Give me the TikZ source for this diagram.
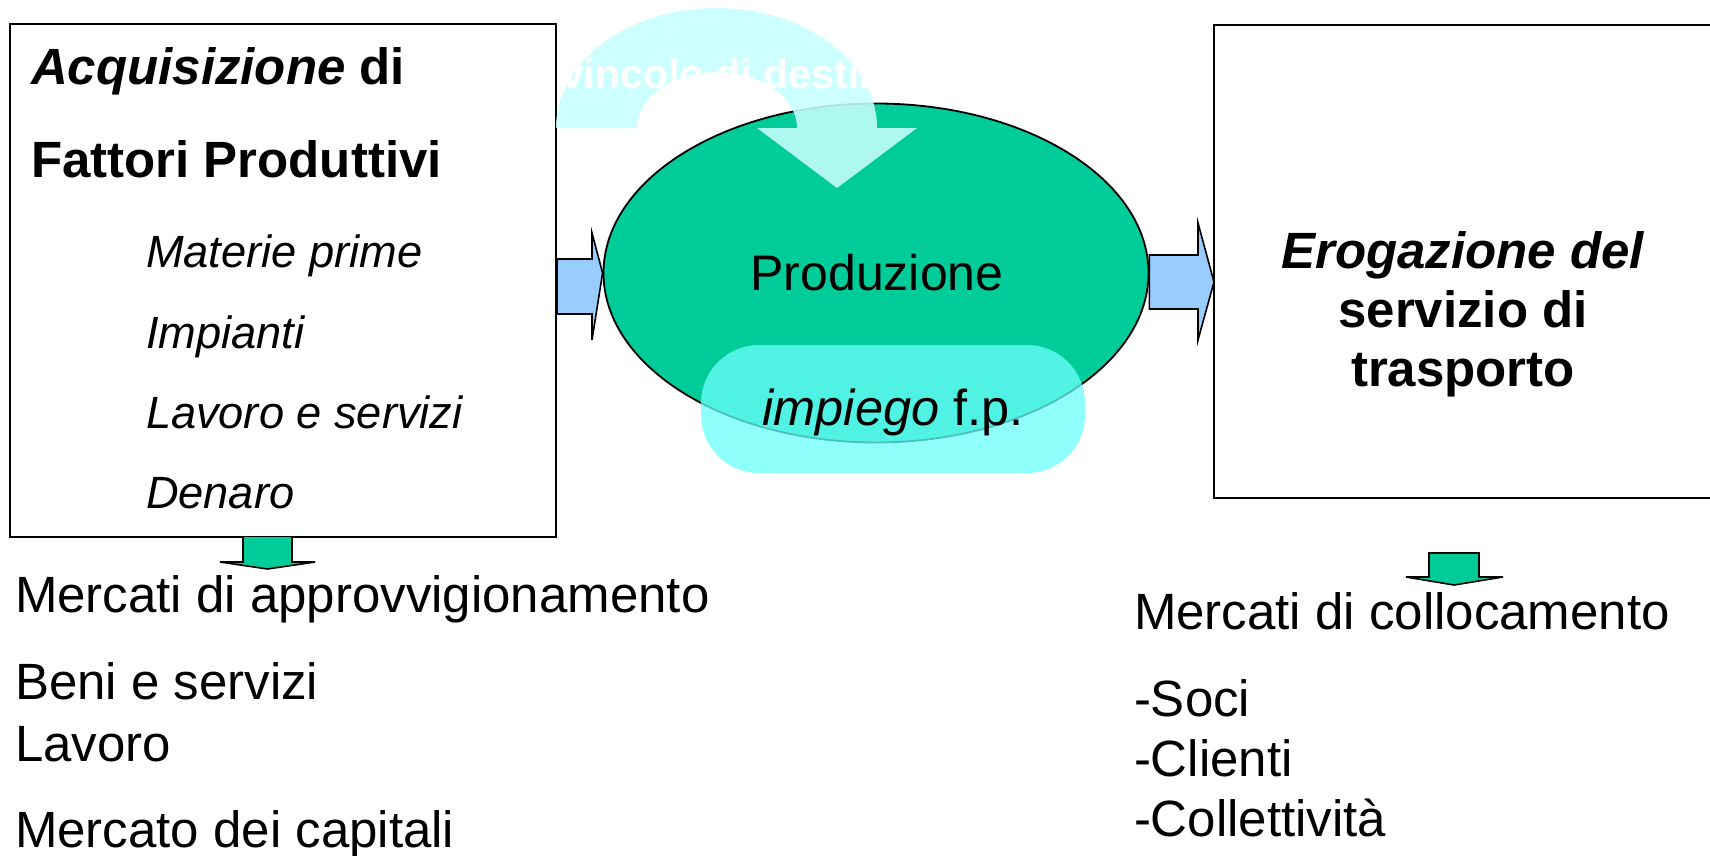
\documentclass[tikz,border=0pt]{standalone}
\usepackage{fontspec}
\setmainfont{Liberation Sans}
\usetikzlibrary{shapes.geometric}
\definecolor{prodgreen}{RGB}{0,204,153}
\definecolor{arrowblue}{RGB}{153,204,255}
\definecolor{pillcyan}{RGB}{106,255,252}
\definecolor{arccyan}{RGB}{200,255,255}
\tikzset{
  lbl/.style={inner sep=0pt, outer sep=0pt, anchor=base west, text=black},
  ctr/.style={inner sep=0pt, outer sep=0pt, anchor=base, text=black},
  bigbold/.style={font=\fontsize{51}{60}\selectfont\bfseries},
  listit/.style={font=\fontsize{45.2}{54}\selectfont\itshape},
  plain/.style={font=\fontsize{51}{60}\selectfont},
  boxline/.style={draw=black, line width=2pt},
  bluearrow/.style={fill=arrowblue, draw=black, line width=1.6pt, line join=miter},
  greenarrow/.style={fill=prodgreen, draw=black, line width=1.6pt, line join=miter},
}
\begin{document}
\begin{tikzpicture}[x=1pt,y=-1pt]
\useasboundingbox (0,0) rectangle (1710,855);
\fill[white] (0,0) rectangle (1710,855);

% left box
\node[boxline, fill=white, minimum width=546pt, minimum height=513pt, inner sep=0pt] (acq) at (283,280.5) {};
% right box (extends past the right edge)
\fill[white] (1214,25) rectangle (1712,498);
\draw[boxline] (1712,25) -- (1214,25) -- (1214,498) -- (1712,498);
\coordinate (erog) at (1214,282);

% production ellipse
\node[ellipse, draw=black, line width=1.8pt, fill=prodgreen, minimum width=545pt, minimum height=339pt, inner sep=0pt] (prod) at (876,273) {};

% blue arrows
\draw[bluearrow] (acq.east |- 0,259) -- (592,259) -- (592,233) -- (prod.west) -- (592,340) -- (592,314) -- (acq.east |- 0,314) -- cycle;
\draw[bluearrow] (prod.east |- 0,255) -- (1198,255) -- (1198,223) -- (erog) -- (1198,340) -- (1198,309) -- (prod.east |- 0,309) -- cycle;

% green down arrows
\draw[greenarrow] (243,537) -- (243,562) -- (220,562) -- (267.5,569) -- (315,562) -- (292,562) -- (292,537);
\draw[greenarrow] (1429,553) -- (1479,553) -- (1479,577) -- (1503,577) -- (1454,585) -- (1406,577) -- (1429,577) -- cycle;

% curved arrow "vincolo di destinazione"
\fill[arccyan, opacity=0.88] (556,128) arc[start angle=180, end angle=0, x radius=160.5pt, y radius=120pt]
  -- (917,128) -- (837,188) -- (757,128) -- (797,128)
  arc[start angle=0, end angle=180, x radius=80pt, y radius=56pt] -- cycle;
\node[lbl, font=\fontsize{41}{48}\selectfont\bfseries, text=white] (vinc) at (561,88) {vincolo di destinazione};

% impiego pill
\fill[pillcyan, opacity=0.75, rounded corners=58pt] (701,345) rectangle (1085,473);
\node[ctr, font=\fontsize{50.5}{60}\selectfont] (imp) at (893,425) {\textit{impiego} f.p.};

\node[ctr, font=\fontsize{50}{60}\selectfont] (prodt) at (877,290) {Produzione};

% left box texts
\node[lbl, bigbold] (t1) at (31,84) {\textit{Acquisizione} di};
\node[lbl, bigbold] (t2) at (31,177) {Fattori Produttivi};
\node[lbl, listit] (l1) at (146,267) {Materie prime};
\node[lbl, listit] (l2) at (146,348) {Impianti};
\node[lbl, listit] (l3) at (146,428) {Lavoro e servizi};
\node[lbl, listit] (l4) at (146,508) {Denaro};

% right box texts
\node[ctr, font=\fontsize{51}{60}\selectfont\bfseries] (e1) at (1463,268) {\textit{Erogazione del}};
\node[ctr, font=\fontsize{51}{60}\selectfont\bfseries] (e2) at (1463,327) {servizio di};
\node[ctr, font=\fontsize{51}{60}\selectfont\bfseries] (e3) at (1463,386) {trasporto};

% bottom left
\node[lbl, plain] (b1) at (15,612) {Mercati di approvvigionamento};
\node[lbl, plain] (b2) at (15,699) {Beni e servizi};
\node[lbl, plain] (b3) at (15,761) {Lavoro};
\node[lbl, plain] (b4) at (15,847) {Mercato dei capitali};

% bottom right
\node[lbl, plain] (r1) at (1134,629) {Mercati di collocamento};
\node[lbl, plain] (r2) at (1134,716) {-Soci};
\node[lbl, plain] (r3) at (1134,776) {-Clienti};
\node[lbl, plain] (r4) at (1134,836) {-Collettività};
\end{tikzpicture}
\end{document}
